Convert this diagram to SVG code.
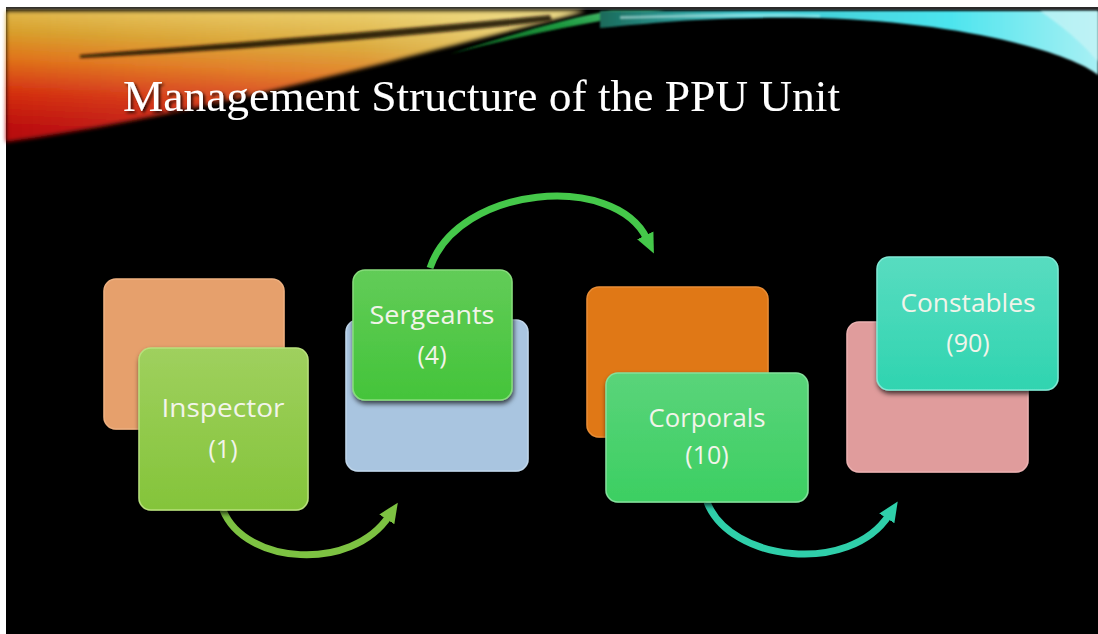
<svg xmlns="http://www.w3.org/2000/svg" width="1098" height="634" viewBox="0 0 1098 634">
<style>
.lbl{font-family:"Open Sans","DejaVu Sans",sans-serif;font-size:25px;fill:#f2f4ea;text-anchor:middle}
.title{font-family:"Liberation Serif","Times New Roman",serif;font-size:45px;fill:#ffffff}
.box{stroke-width:1.5}
.conn{fill:none;stroke-width:7;stroke-linecap:butt}
</style>
<defs>
<filter id="blur" x="-10%" y="-50%" width="120%" height="200%"><feGaussianBlur stdDeviation="2"/></filter>
<filter id="blur1" x="-10%" y="-50%" width="120%" height="200%"><feGaussianBlur stdDeviation="1.2"/></filter>
<filter id="blur2" x="-10%" y="-100%" width="120%" height="300%"><feGaussianBlur stdDeviation="1.8"/></filter>
<filter id="shadow" x="-10%" y="-10%" width="125%" height="130%"><feDropShadow dx="1" dy="3" stdDeviation="2.5" flood-color="#000" flood-opacity="0.7"/></filter>
<filter id="tshadow" x="-5%" y="-20%" width="110%" height="150%"><feDropShadow dx="2" dy="2" stdDeviation="1.5" flood-color="#000" flood-opacity="0.8"/></filter>
<linearGradient id="warm" x1="0.55" y1="0" x2="0.35" y2="1">
<stop offset="0" stop-color="#e8c860"/>
<stop offset="0.25" stop-color="#d8a02c"/>
<stop offset="0.45" stop-color="#e0741a"/>
<stop offset="0.7" stop-color="#d43010"/>
<stop offset="1" stop-color="#b80808"/>
</linearGradient>
<linearGradient id="warmfade" x1="0" y1="0" x2="1" y2="0">
<stop offset="0" stop-color="#ffffff" stop-opacity="0"/>
<stop offset="0.6" stop-color="#f0e6a0" stop-opacity="0.15"/>
<stop offset="1" stop-color="#f4eeb0" stop-opacity="0.55"/>
</linearGradient>
<linearGradient id="greenw" x1="0" y1="1" x2="1" y2="0">
<stop offset="0" stop-color="#0c5a1e"/>
<stop offset="0.6" stop-color="#1e9a40"/>
<stop offset="1" stop-color="#5ac880"/>
</linearGradient>
<linearGradient id="cyan" x1="0" y1="0" x2="1" y2="0">
<stop offset="0" stop-color="#1a6a5a"/>
<stop offset="0.3" stop-color="#40c8d0"/>
<stop offset="0.7" stop-color="#4ce4ee"/>
<stop offset="1" stop-color="#a8f0f4"/>
</linearGradient>
<linearGradient id="gInsp" x1="0" y1="0" x2="0" y2="1"><stop offset="0" stop-color="#9fd05e"/><stop offset="1" stop-color="#84c43a"/></linearGradient>
<linearGradient id="gSerg" x1="0" y1="0" x2="0" y2="1"><stop offset="0" stop-color="#62cc58"/><stop offset="1" stop-color="#44c43a"/></linearGradient>
<linearGradient id="gCorp" x1="0" y1="0" x2="0" y2="1"><stop offset="0" stop-color="#5ad47a"/><stop offset="1" stop-color="#3ccf62"/></linearGradient>
<linearGradient id="gCons" x1="0" y1="0" x2="0" y2="1"><stop offset="0" stop-color="#58dcc0"/><stop offset="1" stop-color="#2fd4b0"/></linearGradient>
<marker id="ah1" markerUnits="userSpaceOnUse" markerWidth="22" markerHeight="22" viewBox="0 0 22 22" refX="4" refY="11" orient="auto"><path d="M0,2 L20,11 L0,20 Z" fill="#7dc242"/></marker>
<marker id="ah2" markerUnits="userSpaceOnUse" markerWidth="22" markerHeight="22" viewBox="0 0 22 22" refX="4" refY="11" orient="auto"><path d="M0,2 L20,11 L0,20 Z" fill="#45c84a"/></marker>
<marker id="ah3" markerUnits="userSpaceOnUse" markerWidth="22" markerHeight="22" viewBox="0 0 22 22" refX="4" refY="11" orient="auto"><path d="M0,2 L20,11 L0,20 Z" fill="#2fcfaa"/></marker>
</defs>

<rect x="0" y="0" width="1098" height="634" fill="#ffffff"/>
<rect x="6" y="7" width="1092" height="627" fill="#000000"/>
<rect x="6" y="7" width="1092" height="3" fill="#2a2a2a"/>

<g id="decoration">
<path d="M6,11 L585,11 C430,50 200,115 6,142 Z" fill="url(#warm)" filter="url(#blur)"/>
<path d="M6,11 L585,11 C430,50 200,115 6,142 Z" fill="url(#warmfade)" filter="url(#blur)"/>
<path d="M80,55 C220,44 400,30 550,15 L552,21 C400,38 220,51 80,58 Z" fill="#120800" opacity="0.85" filter="url(#blur2)"/>
<path d="M450,54 C520,32 570,17 612,11 L665,11 C585,22 520,36 450,54 Z" fill="url(#greenw)" filter="url(#blur1)"/>
<path d="M600,11 L1098,11 L1098,75 C1070,52 960,22 820,18 C720,16 660,22 600,28 Z" fill="url(#cyan)" filter="url(#blur1)"/>
<path d="M1040,11 L1098,11 L1098,62 C1080,40 1060,25 1040,11 Z" fill="#c8f4f6" opacity="0.7" filter="url(#blur1)"/>
<path d="M620,16 C700,14 760,13 820,15 L820,17 C760,16 700,17 620,19 Z" fill="#e0ffff" opacity="0.5" filter="url(#blur1)"/>
</g>

<text class="title" x="123" y="111" textLength="717" lengthAdjust="spacingAndGlyphs" filter="url(#tshadow)">Management Structure of the PPU Unit</text>

<g id="connectors">
<path class="conn" d="M223,510 C245,565 352,572 389,516" stroke="#7dc242" marker-end="url(#ah1)"/>
<path class="conn" d="M430,268 C458,185 615,172 647,239" stroke="#45c84a" marker-end="url(#ah2)"/>
<path class="conn" d="M707,502 C730,562 850,575 889,515" stroke="#2fcfaa" marker-end="url(#ah3)"/>
</g>

<g id="back-orange-1"><rect x="104" y="279" width="180" height="150" rx="12" fill="#e6a06c" stroke="#eeb080" class="box" filter="url(#shadow)"/></g>
<g id="inspector">
<rect x="139" y="348" width="169" height="162" rx="12" fill="url(#gInsp)" stroke="#b8e07c" class="box" filter="url(#shadow)"/>
<text class="lbl" x="223" y="417" textLength="123" lengthAdjust="spacingAndGlyphs">Inspector</text>
<text class="lbl" x="223" y="458">(1)</text>
</g>

<g id="back-blue"><rect x="346" y="320" width="182" height="151" rx="12" fill="#a9c5e0" stroke="#c0d6ea" class="box" filter="url(#shadow)"/></g>
<g id="sergeants">
<rect x="353" y="270" width="159" height="130" rx="12" fill="url(#gSerg)" stroke="#88dc7c" class="box" filter="url(#shadow)"/>
<text class="lbl" x="432" y="324" textLength="125" lengthAdjust="spacingAndGlyphs">Sergeants</text>
<text class="lbl" x="432" y="364">(4)</text>
</g>

<g id="back-orange-2"><rect x="587" y="287" width="181" height="150" rx="12" fill="#e07818" stroke="#e88c34" class="box" filter="url(#shadow)"/></g>
<g id="corporals">
<rect x="606" y="373" width="202" height="129" rx="12" fill="url(#gCorp)" stroke="#84e09c" class="box" filter="url(#shadow)"/>
<text class="lbl" x="707" y="427" textLength="117" lengthAdjust="spacingAndGlyphs">Corporals</text>
<text class="lbl" x="707" y="464">(10)</text>
</g>

<g id="back-pink"><rect x="847" y="322" width="181" height="150" rx="12" fill="#e09c9c" stroke="#eab0b0" class="box" filter="url(#shadow)"/></g>
<g id="constables">
<rect x="877" y="257" width="181" height="133" rx="12" fill="url(#gCons)" stroke="#80e8d4" class="box" filter="url(#shadow)"/>
<text class="lbl" x="968" y="312" textLength="135" lengthAdjust="spacingAndGlyphs">Constables</text>
<text class="lbl" x="968" y="352">(90)</text>
</g>
</svg>
